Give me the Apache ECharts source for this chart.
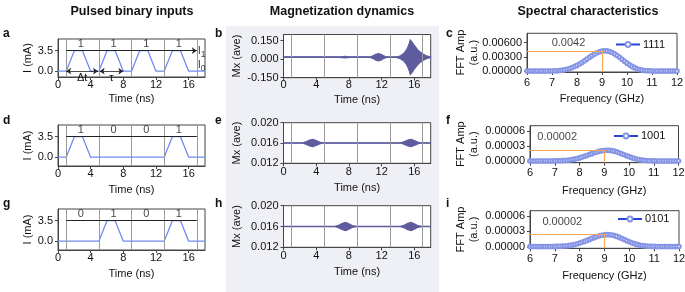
<!DOCTYPE html>
<html>
<head>
<meta charset="utf-8">
<script src="https://cdn.jsdelivr.net/npm/echarts@6/dist/echarts.min.js"></script>
<style>
  html, body { margin: 0; padding: 0; background: #fff; }
  #chart { width: 685px; height: 292px; }
</style>
</head>
<body>
<div id="chart"></div>
<script>
// ---- pulsed inputs (time in ns, current in mA)
const pulseTime = [0, 1, 2, 3, 4, 5, 6, 7, 8, 9, 10, 11, 12, 13, 14, 15, 16, 17, 18];
const currentA = [0, 0, 3.5, 3.5, 0, 0, 3.5, 3.5, 0, 0, 3.5, 3.5, 0, 0, 3.5, 3.5, 0, 0, 0];
const currentD = [0, 0, 3.5, 3.5, 0, 0, 0, 0, 0, 0, 0, 0, 0, 0, 3.5, 3.5, 0, 0, 0];
const currentG = [0, 0, 0, 0, 0, 0, 3.5, 3.5, 0, 0, 0, 0, 0, 0, 3.5, 3.5, 0, 0, 0];
const slotEdges = [1, 5, 9, 13, 17];
const bitTime = [2.8, 6.8, 10.8, 14.8];
const bitsA = ['1', '1', '1', '1'];
const bitsD = ['1', '0', '0', '1'];
const bitsG = ['0', '1', '0', '1'];
const highLevel = 3.5;

// ---- Mx envelopes (centre value and half amplitude)
const mxCenter = 0.016;
const bTime = [0, 6.8, 7.2, 7.5, 7.8, 8.2, 10.6, 11.0, 11.3, 11.6, 11.9, 12.2, 12.6, 13.8, 14.3, 14.7, 15.0, 15.2, 15.4, 15.5, 15.7, 16.0, 16.3, 16.6, 17.0, 17.4, 17.8, 18];
const bAmp = [0.002, 0.002, 0.004, 0.006, 0.004, 0.002, 0.002, 0.013, 0.024, 0.03, 0.024, 0.013, 0.002, 0.002, 0.012, 0.03, 0.055, 0.08, 0.115, 0.14, 0.125, 0.095, 0.07, 0.048, 0.028, 0.014, 0.005, 0.002];
const eTime = [0, 2.3, 2.8, 3.2, 3.6, 4.0, 4.4, 4.9, 14.3, 14.8, 15.2, 15.6, 16.0, 16.4, 16.9, 18];
const eAmp = [0, 0, 0.0003, 0.0006, 0.0007, 0.0005, 0.0002, 0, 0, 0.0003, 0.0006, 0.0007, 0.0005, 0.0002, 0, 0];
const hTime = [0, 6.3, 6.8, 7.2, 7.6, 8.0, 8.4, 8.9, 14.3, 14.8, 15.2, 15.6, 16.0, 16.4, 16.9, 18];
const hAmp = [0, 0, 0.0003, 0.0006, 0.0008, 0.0005, 0.0002, 0, 0, 0.0003, 0.0006, 0.0008, 0.0005, 0.0002, 0, 0];

// ---- FFT spectra (GHz, a.u.)
const freq = [6.0, 6.1, 6.2, 6.3, 6.4, 6.5, 6.6, 6.7, 6.8, 6.9,
  7.0, 7.1, 7.2, 7.3, 7.4, 7.5, 7.6, 7.7, 7.8, 7.9,
  8.0, 8.1, 8.2, 8.3, 8.4, 8.5, 8.6, 8.7, 8.8, 8.9,
  9.0, 9.1, 9.2, 9.3, 9.4, 9.5, 9.6, 9.7, 9.8, 9.9,
  10.0, 10.1, 10.2, 10.3, 10.4, 10.5, 10.6, 10.7, 10.8, 10.9,
  11.0, 11.1, 11.2, 11.3, 11.4, 11.5, 11.6, 11.7, 11.8, 11.9, 12.0];
const fftC = [0, 0, 0, 0, 0, 0, 0, 0, 0, 0,
  0.00002, 0.00004, 0.00007, 0.00011, 0.00017, 0.00026, 0.00038, 0.00054, 0.00073, 0.00095,
  0.00120, 0.00149, 0.00182, 0.00217, 0.00253, 0.00290, 0.00326, 0.00359, 0.00387, 0.00409,
  0.00424, 0.00430, 0.00427, 0.00414, 0.00393, 0.00365, 0.00330, 0.00291, 0.00250, 0.00208,
  0.00168, 0.00131, 0.00099, 0.00072, 0.00050, 0.00034, 0.00022, 0.00013, 0.00008, 0.00004,
  0.00002, 0, 0, 0, 0, 0, 0, 0, 0, 0, 0];
const fftF = [0.05e-5, 0.05e-5, 0.05e-5, 0.05e-5, 0.05e-5, 0.05e-5, 0.05e-5, 0.05e-5, 0.05e-5, 0.05e-5,
  0.06e-5, 0.07e-5, 0.09e-5, 0.11e-5, 0.14e-5, 0.18e-5, 0.24e-5, 0.32e-5, 0.41e-5, 0.52e-5,
  0.65e-5, 0.80e-5, 0.96e-5, 1.13e-5, 1.31e-5, 1.49e-5, 1.66e-5, 1.82e-5, 1.95e-5, 2.05e-5,
  2.12e-5, 2.15e-5, 2.14e-5, 2.08e-5, 1.98e-5, 1.84e-5, 1.67e-5, 1.48e-5, 1.28e-5, 1.08e-5,
  0.89e-5, 0.71e-5, 0.55e-5, 0.42e-5, 0.31e-5, 0.23e-5, 0.17e-5, 0.12e-5, 0.09e-5, 0.07e-5,
  0.06e-5, 0.05e-5, 0.05e-5, 0.05e-5, 0.05e-5, 0.05e-5, 0.05e-5, 0.05e-5, 0.05e-5, 0.05e-5, 0.05e-5];
const fftI = [0.05e-5, 0.05e-5, 0.05e-5, 0.05e-5, 0.05e-5, 0.05e-5, 0.05e-5, 0.05e-5, 0.05e-5, 0.05e-5,
  0.07e-5, 0.08e-5, 0.10e-5, 0.12e-5, 0.15e-5, 0.20e-5, 0.26e-5, 0.35e-5, 0.45e-5, 0.57e-5,
  0.71e-5, 0.87e-5, 1.05e-5, 1.23e-5, 1.43e-5, 1.62e-5, 1.81e-5, 1.98e-5, 2.13e-5, 2.23e-5,
  2.31e-5, 2.35e-5, 2.33e-5, 2.27e-5, 2.16e-5, 2.01e-5, 1.82e-5, 1.61e-5, 1.40e-5, 1.18e-5,
  0.97e-5, 0.77e-5, 0.60e-5, 0.46e-5, 0.34e-5, 0.25e-5, 0.19e-5, 0.13e-5, 0.10e-5, 0.08e-5,
  0.07e-5, 0.05e-5, 0.05e-5, 0.05e-5, 0.05e-5, 0.05e-5, 0.05e-5, 0.05e-5, 0.05e-5, 0.05e-5, 0.05e-5];
const fftNames = ['1111', '1001', '0101'];
const peakFreq = 9;
const peakAmp = [0.0043, 0.0000221, 0.000024];
const peakText = ['0.0042', '0.00002', '0.00002'];

// ---- tick labels
const timeTicks = [0, 4, 8, 12, 16];
const currentTicks = [0, 3.5];
const mxTicksB = [-0.15, 0, 0.15];
const mxTicksEH = [0.012, 0.016, 0.02];
const fftTicksC = [0, 0.003, 0.006];
const fftTicksFI = [0, 0.00003, 0.00006];

const FONT = '"Liberation Sans", Arial, Helvetica, sans-serif';
const INK = '#111';
const AXIS = '#444';
const PULSE = '#6f8cf2';
const MX = '#5e5c9e';
const SLOT = '#9a9a9a';

const chart = echarts.init(document.getElementById('chart'));

// grids: a d g | b e h | c f i
const grids = [
  { left: 58, top: 39, width: 147, height: 38 },
  { left: 58, top: 125, width: 147, height: 41 },
  { left: 58, top: 209, width: 147, height: 41 },
  { left: 283.5, top: 34.5, width: 147.2, height: 43.2 },
  { left: 283.5, top: 122.7, width: 147.2, height: 40.6 },
  { left: 283.5, top: 205.7, width: 147.2, height: 41.6 },
  { left: 527, top: 33.3, width: 150, height: 38.7 },
  { left: 530, top: 125.7, width: 148.5, height: 37 },
  { left: 530, top: 210.7, width: 149, height: 37.6 }
].map(g => Object.assign(g, {
  show: true, backgroundColor: '#fff', borderColor: AXIS, borderWidth: 1, outerBoundsMode: 'none'
}));

function axis(extra) {
  return Object.assign({
    type: 'value',
    splitLine: { show: false },
    axisLine: { show: true, onZero: false, lineStyle: { color: AXIS, width: 1 } },
    nameLocation: 'middle',
    nameMoveOverlap: false,
    nameTextStyle: { fontFamily: FONT, fontSize: 11, color: INK, lineHeight: 13 }
  }, extra);
}
function labels(values, margin, digits) {
  return {
    customValues: values, margin: margin, fontFamily: FONT, fontSize: 11, color: INK,
    formatter: v => digits == null ? String(v) : Number(v).toFixed(digits)
  };
}
function ticks(values) {
  return { customValues: values, length: 3, lineStyle: { color: AXIS } };
}

const xAxes = [];
const yAxes = [];
[0, 1, 2].forEach(i => {
  xAxes.push(axis({ gridIndex: i, min: 0, max: 18, name: 'Time (ns)', nameGap: i === 0 ? 15 : 17,
    axisLabel: labels(timeTicks, 2), axisTick: ticks(timeTicks) }));
  yAxes.push(axis({ gridIndex: i, min: i === 0 ? -1 : -1.5, max: 5.5, name: 'I (mA)', nameGap: 24,
    axisLabel: labels(currentTicks, 5, 1), axisTick: ticks(currentTicks) }));
});
[3, 4, 5].forEach(i => {
  const big = i === 3;
  xAxes.push(axis({ gridIndex: i, min: 0, max: 18, name: 'Time (ns)', nameGap: big ? 16 : 18.5,
    axisLabel: labels(timeTicks, big ? 2 : 3.5), axisTick: ticks(timeTicks) }));
  const tv = big ? mxTicksB : mxTicksEH;
  yAxes.push(axis({ gridIndex: i, min: big ? -0.15 : 0.012, max: big ? 0.2 : 0.02,
    name: 'Mx (ave)', nameGap: 40, axisLabel: labels(tv, 5, 3), axisTick: ticks(tv) }));
});
[6, 7, 8].forEach(i => {
  const first = i === 6;
  const tv = first ? fftTicksC : fftTicksFI;
  xAxes.push(axis({ gridIndex: i, min: 6, max: 12, interval: 1, name: 'Frequency (GHz)',
    nameGap: first ? 20 : 21.5, axisLabel: { margin: 5, fontFamily: FONT, fontSize: 11, color: INK },
    axisTick: { length: 3, lineStyle: { color: AXIS } } }));
  yAxes.push(axis({ gridIndex: i, min: first ? -0.0002 : -0.000003, max: first ? 0.008 : 0.00007,
    name: 'FFT Amp\n(a.u.)', nameGap: first ? 47 : 50, axisLabel: labels(tv, 5, 5), axisTick: ticks(tv) }));
});

const series = [];

// pulse panels
const pulseRows = [
  { current: currentA, bits: bitsA },
  { current: currentD, bits: bitsD },
  { current: currentG, bits: bitsG }
];
const arrowLine = { color: '#222', width: 0.8, type: 'solid' };
pulseRows.forEach((row, i) => {
  const lines = slotEdges.map(x => ({ xAxis: x }));
  lines.push([
    { coord: [slotEdges[0], highLevel], symbol: 'none', lineStyle: { color: '#222', width: 1, type: 'solid' } },
    { coord: [slotEdges[slotEdges.length - 1], highLevel], symbol: i === 0 ? 'arrow' : 'none', symbolSize: 5 }
  ]);
  if (i === 0) {
    lines.push([
      { coord: [1, 0], symbol: 'arrow', symbolSize: 5, lineStyle: arrowLine,
        label: { show: true, formatter: 'Δt', position: 'insideMiddleBottom', distance: 1,
          fontFamily: FONT, fontSize: 11, color: INK } },
      { coord: [4.9, 0], symbol: 'arrow', symbolSize: 5 }
    ]);
    lines.push([
      { coord: [5.1, 0], symbol: 'arrow', symbolSize: 5, lineStyle: arrowLine,
        label: { show: true, formatter: 'τ', position: 'insideMiddleBottom', distance: 1,
          fontFamily: FONT, fontSize: 11, color: INK } },
      { coord: [8, 0], symbol: 'arrow', symbolSize: 5 }
    ]);
  }
  series.push({
    type: 'line', xAxisIndex: i, yAxisIndex: i, symbol: 'none', z: 3,
    data: pulseTime.map((t, k) => [t, row.current[k]]),
    lineStyle: { color: PULSE, width: 1.3 },
    markLine: {
      silent: true, symbol: 'none', label: { show: false },
      lineStyle: { color: SLOT, width: 1, type: 'solid' }, data: lines
    }
  });
  series.push({
    type: 'scatter', xAxisIndex: i, yAxisIndex: i, symbolSize: 0, silent: true,
    data: row.bits.map((b, k) => ({ name: b, value: [bitTime[k], highLevel + 1.15] })),
    label: { show: true, position: 'inside', formatter: '{b}', fontFamily: FONT, fontSize: 11, color: INK }
  });
});
// I1 / I0 level marks on panel a
series.push({
  type: 'scatter', xAxisIndex: 0, yAxisIndex: 0, symbolSize: 0, silent: true,
  data: [{ name: '1', value: [17.1, highLevel] }, { name: '0', value: [17.1, 1.0] }],
  label: {
    show: true, position: 'right', distance: 0,
    formatter: p => '{m|I}{s|' + p.name + '}',
    rich: {
      m: { fontFamily: FONT, fontSize: 11.5, color: INK },
      s: { fontFamily: FONT, fontSize: 8.5, color: INK, padding: [7, 0, 0, 0] }
    }
  }
});

// magnetization panels: envelope of the fast precession drawn as a filled band
const mxRows = [
  { time: bTime, amp: bAmp },
  { time: eTime, amp: eAmp },
  { time: hTime, amp: hAmp }
];
mxRows.forEach((row, j) => {
  const i = 3 + j;
  series.push({
    type: 'line', xAxisIndex: i, yAxisIndex: i, symbol: 'none', z: 1,
    data: row.time.map(t => [t, mxCenter]),
    lineStyle: { color: MX, width: 1.4 },
    markLine: {
      silent: true, symbol: 'none', label: { show: false },
      lineStyle: { color: SLOT, width: 1, type: 'solid' },
      data: slotEdges.map(x => ({ xAxis: x }))
    }
  });
  series.push({
    type: 'custom', xAxisIndex: i, yAxisIndex: i, silent: true, z: 2,
    data: row.time.map((t, k) => [t, mxCenter - row.amp[k], mxCenter + row.amp[k]]),
    encode: { x: 0, y: [1, 2] },
    renderItem: (params, api) => {
      if (params.dataIndex !== 0) return null;
      const upper = row.time.map((t, k) => api.coord([t, mxCenter + row.amp[k]]));
      const lower = row.time.map((t, k) => api.coord([t, mxCenter - row.amp[k]])).reverse();
      return {
        type: 'polygon',
        shape: { points: upper.concat(lower) },
        style: { fill: MX, stroke: MX, lineWidth: 1.2 }
      };
    }
  });
});

// spectra panels
const fftRows = [fftC, fftF, fftI];
const yMins = [-0.0002, -0.000003, -0.000003];
const textPos = [[7.66, 0.006], [7.1, 0.0000475], [7.3, 0.0000482]];
fftRows.forEach((vals, j) => {
  const i = 6 + j;
  series.push({
    type: 'line', name: fftNames[j], xAxisIndex: i, yAxisIndex: i,
    data: freq.map((f, k) => [f, vals[k]]),
    symbol: 'emptyCircle', symbolSize: 3.6, showSymbol: true, showAllSymbol: true,
    lineStyle: { color: '#2744d6', width: 1 },
    itemStyle: { color: '#8694e6', borderWidth: 1 },
    markLine: {
      silent: true, symbol: 'none', label: { show: false },
      lineStyle: { color: '#f7a857', width: 1.2, type: 'solid' },
      data: [
        [{ coord: [6, peakAmp[j]] }, { coord: [peakFreq, peakAmp[j]] }],
        [{ coord: [peakFreq, yMins[j]] }, { coord: [peakFreq, peakAmp[j]] }]
      ]
    }
  });
  series.push({
    type: 'scatter', xAxisIndex: i, yAxisIndex: i, symbolSize: 0, silent: true,
    data: [{ name: peakText[j], value: textPos[j] }],
    label: { show: true, position: 'inside', formatter: '{b}', fontFamily: FONT, fontSize: 11, color: INK }
  });
});

const legendPos = [[615, 39], [613, 130.5], [617, 213.5]];
const legends = fftNames.map((n, j) => ({
  data: [n], left: legendPos[j][0], top: legendPos[j][1], padding: 0, itemGap: 0,
  itemWidth: 24, itemHeight: 6, selectedMode: false,
  textStyle: { fontFamily: FONT, fontSize: 11, color: INK, padding: [0, 0, 0, -2] }
}));

function text(x, y, s, size, bold, align) {
  return {
    type: 'text', x: x, y: y, silent: true,
    style: { text: s, fontFamily: FONT, fontSize: size, fontWeight: bold ? 'bold' : 'normal',
      fill: INK, align: align || 'left', verticalAlign: 'middle' }
  };
}

const graphic = [
  { type: 'rect', z: -100, silent: true, shape: { x: 226, y: 26, width: 213, height: 266 }, style: { fill: '#eff0f5' } },
  text(132, 12, 'Pulsed binary inputs', 12.5, true, 'center'),
  text(342, 12, 'Magnetization dynamics', 12.5, true, 'center'),
  text(588, 12, 'Spectral characteristics', 12.5, true, 'center'),
  text(3, 34, 'a', 12, true), text(215, 34, 'b', 12, true), text(446, 34, 'c', 12, true),
  text(3, 121, 'd', 12, true), text(215, 121, 'e', 12, true), text(446, 121, 'f', 12, true),
  text(3, 204, 'g', 12, true), text(215, 204, 'h', 12, true), text(446, 204, 'i', 12, true)
];

chart.setOption({
  animation: false,
  textStyle: { fontFamily: FONT },
  grid: grids,
  xAxis: xAxes,
  yAxis: yAxes,
  legend: legends,
  graphic: graphic,
  series: series
});
</script>
</body>
</html>
